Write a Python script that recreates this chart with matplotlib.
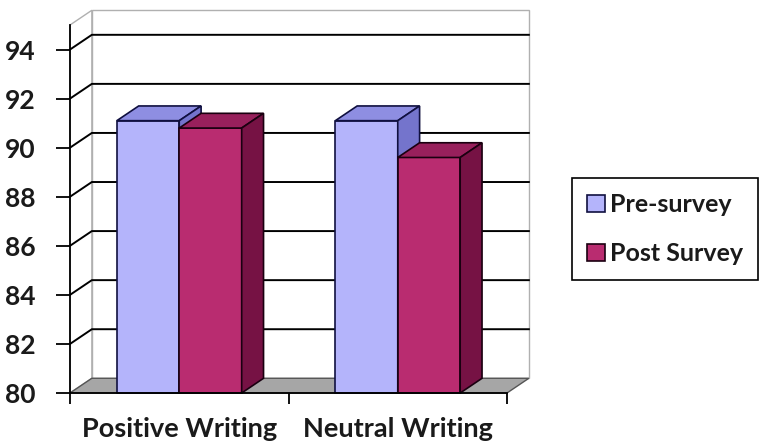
import matplotlib.pyplot as plt
from matplotlib.patches import Polygon, Patch

categories = ['Positive Writing', 'Neutral Writing']
series_names = ['Pre-survey', 'Post Survey']
pre_survey = [91.1, 91.1]
post_survey = [90.8, 89.6]
y_ticks = [80, 82, 84, 86, 88, 90, 92, 94]

plt.rcParams['font.family'] = ['Lato', 'DejaVu Sans']

YMIN, YMAX = 80, 95
DX, DY = 0.1, 0.6          # depth offset of the fake 3-D box
BAR_W = 1 / 3.5            # gap width 150 %
TXT = '#1a1a1a'

fig = plt.figure(figsize=(7.72, 4.45), dpi=100)
ax = fig.add_axes([70 / 772, 52 / 445, 437 / 772, 368 / 445])
ax.set_xlim(0, 2)
ax.set_ylim(YMIN, YMAX)
ax.patch.set_visible(False)


def poly(pts, fc, ec, lw=1.0, z=1):
    ax.add_patch(Polygon(pts, closed=True, facecolor=fc, edgecolor=ec,
                         linewidth=lw, zorder=z, clip_on=False))


# back wall, side wall and floor
poly([(DX, YMIN + DY), (2 + DX, YMIN + DY), (2 + DX, YMAX + DY), (DX, YMAX + DY)],
     'white', '#b0b0b0', 1.0, 0)
poly([(0, YMIN), (DX, YMIN + DY), (DX, YMAX + DY), (0, YMAX)],
     'white', '#b0b0b0', 1.0, 0)
for v in y_ticks[1:]:
    ax.plot([0, DX, 2 + DX], [v, v + DY, v + DY], color='black', lw=1.4,
            zorder=0.5, clip_on=False)
poly([(0, YMIN), (2, YMIN), (2 + DX, YMIN + DY), (DX, YMIN + DY)],
     '#a6a6a6', '#555555', 1.0, 0.6)


def bar3d(x0, v, front, top, side, edge):
    x1 = x0 + BAR_W
    poly([(x0, YMIN), (x1, YMIN), (x1, v), (x0, v)], front, edge, 1.2, 2)
    poly([(x0, v), (x1, v), (x1 + DX, v + DY), (x0 + DX, v + DY)], top, edge, 1.2, 2)
    poly([(x1, YMIN), (x1 + DX, YMIN + DY), (x1 + DX, v + DY), (x1, v)], side, edge, 1.2, 2)


pre_colors = ('#b4b4fb', '#8e8ee2', '#7474cc', '#101040')
post_colors = ('#b92c70', '#98205c', '#761244', '#1a0010')
for i in range(len(categories)):
    c = i + 0.5
    bar3d(c - BAR_W, pre_survey[i], *pre_colors)
    bar3d(c, post_survey[i], *post_colors)

# axes
for s in ['top', 'right']:
    ax.spines[s].set_visible(False)
for s in ['left', 'bottom']:
    ax.spines[s].set_color('black')
    ax.spines[s].set_linewidth(1.3)
    ax.spines[s].set_zorder(3)

ax.set_yticks(y_ticks)
ax.tick_params(axis='y', direction='out', length=10, width=1.3, pad=15,
               labelsize=19, labelcolor=TXT)
ax.set_xticks([0, 1, 2])
ax.set_xticklabels([])
ax.set_xticks([0.5, 1.5], minor=True)
ax.set_xticklabels(categories, minor=True)
ax.tick_params(axis='x', which='major', direction='out', length=8, width=1.3)
ax.tick_params(axis='x', which='minor', length=0, pad=17,
               labelsize=19.5, labelcolor=TXT)
for lbl in ax.get_yticklabels() + ax.get_xticklabels(minor=True):
    lbl.set_fontweight('bold')

handles = [Patch(facecolor=pre_colors[0], edgecolor=pre_colors[3], lw=1.2),
           Patch(facecolor=post_colors[0], edgecolor=post_colors[3], lw=1.2)]
leg = fig.legend(handles, series_names, loc='upper left',
                 bbox_to_anchor=(572 / 772, 1 - 178 / 445), borderaxespad=0,
                 fancybox=False, edgecolor='black', framealpha=1,
                 handlelength=0.7, handleheight=0.7, handletextpad=0.2,
                 labelspacing=1.05, borderpad=0.6,
                 prop={'size': 18, 'weight': 'bold'})
leg.get_frame().set_linewidth(1.2)
for t in leg.get_texts():
    t.set_color(TXT)

fig.savefig('out.png', dpi=100)
